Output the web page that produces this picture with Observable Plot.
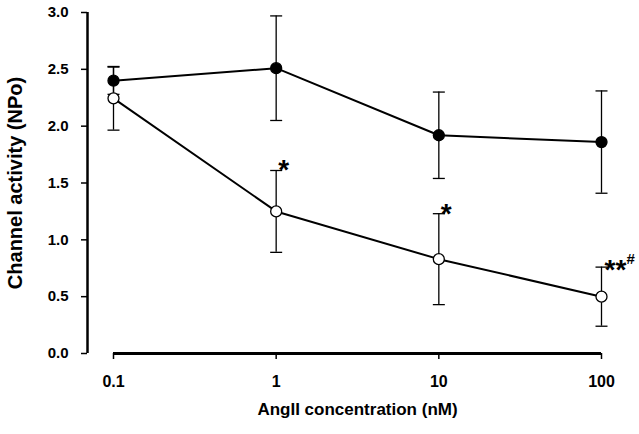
<!DOCTYPE html>
<html>
<head>
<meta charset="utf-8">
<script src="https://cdn.jsdelivr.net/npm/d3@7"></script>
<script src="https://cdn.jsdelivr.net/npm/@observablehq/plot@0.6"></script>
<style>
  html, body { margin: 0; padding: 0; background: #fff; }
</style>
</head>
<body>
<div id="chart"></div>
<script>
// ---- data ----
const conc = [0.1, 1, 10, 100];
const controlMean = [2.40, 2.51, 1.92, 1.86];
const controlSem  = [0.12, 0.46, 0.38, 0.45];
const angMean = [2.245, 1.25, 0.83, 0.50];
const angSem  = [0.28, 0.36, 0.40, 0.26];

const xTicks = [0.1, 1, 10, 100];
const xTickLabels = ["0.1", "1", "10", "100"];
const yTicks = [0, 0.5, 1.0, 1.5, 2.0, 2.5, 3.0];

const annConc = [1, 10];
const annText = ["*", "*"];
const ann2Conc = [100];
const ann2Text = ["**"];
const hashConc = [100];
const hashText = ["#"];

const xTitle = "AngII concentration (nM)";
const yTitle = "Channel activity (NPo)";

// ---- build table ----
const rows = [];
conc.forEach((c, i) => {
  rows.push({series: "control", conc: c, mean: controlMean[i], lo: controlMean[i] - controlSem[i], hi: controlMean[i] + controlSem[i]});
  rows.push({series: "angII", conc: c, mean: angMean[i], lo: angMean[i] - angSem[i], hi: angMean[i] + angSem[i]});
});
const control = rows.filter(d => d.series === "control");
const ang = rows.filter(d => d.series === "angII");
const topOf = c => ang.find(d => d.conc === c).hi;
const annRows = annConc.map((c, i) => ({conc: c, text: annText[i], y: topOf(c)}));
const ann2Rows = ann2Conc.map((c, i) => ({conc: c, text: ann2Text[i], y: topOf(c)}));
const hashRows = hashConc.map((c, i) => ({conc: c, text: hashText[i], y: topOf(c)}));

const cap = { draw(ctx) { ctx.moveTo(-6, 0); ctx.lineTo(6, 0); } };
const font = "'Liberation Sans', Arial, Helvetica, sans-serif";

const chart = Plot.plot({
  width: 639,
  height: 434,
  marginLeft: 113,
  marginRight: 38,
  marginTop: 12,
  marginBottom: 81,
  style: { fontFamily: font, fontWeight: "bold", color: "black", background: "white" },
  x: { type: "log", domain: [0.1, 100] },
  y: { domain: [0, 3] },
  marks: [
    // axes
    Plot.ruleY([0], { stroke: "black", strokeWidth: 3 }),
    Plot.axisX({ ticks: xTicks, tickFormat: d => xTickLabels[xTicks.indexOf(d)], tickSize: 6, tickPadding: 16, fontSize: 16, strokeWidth: 1.5, label: null }),
    Plot.ruleX([xTicks[0]], { dx: -26, stroke: "black", strokeWidth: 2.5 }),
    Plot.axisY({ ticks: yTicks, tickFormat: d => d.toFixed(1), dx: -26, tickSize: 6, tickPadding: 13, fontSize: 15, strokeWidth: 1.5, label: null }),
    Plot.text([xTitle], { frameAnchor: "bottom", dy: 61, fontSize: 17, fontWeight: "bold" }),
    Plot.text([yTitle], { frameAnchor: "left", textAnchor: "middle", dx: -98, rotate: -90, fontSize: 20, fontWeight: "bold" }),
    // error bars
    Plot.ruleX(rows, { x: "conc", y1: "lo", y2: "hi", stroke: "black", strokeWidth: 1.3 }),
    Plot.dot(rows, { x: "conc", y: "hi", symbol: cap, stroke: "black", strokeWidth: 1.3, fill: "none" }),
    Plot.dot(rows, { x: "conc", y: "lo", symbol: cap, stroke: "black", strokeWidth: 1.3, fill: "none" }),
    // lines
    Plot.line(control, { x: "conc", y: "mean", stroke: "black", strokeWidth: 2 }),
    Plot.line(ang, { x: "conc", y: "mean", stroke: "black", strokeWidth: 2 }),
    // points
    Plot.dot(control, { x: "conc", y: "mean", r: 5.5, fill: "black", stroke: "black", strokeWidth: 1.3 }),
    Plot.dot(ang, { x: "conc", y: "mean", r: 5.5, fill: "white", stroke: "black", strokeWidth: 1.3 }),
    // significance marks
    Plot.text(annRows, { x: "conc", y: "y", text: "text", textAnchor: "start", lineAnchor: "bottom", dx: 2, dy: 9, fontSize: 28, fontWeight: "bold" }),
    Plot.text(ann2Rows, { x: "conc", y: "y", text: "text", textAnchor: "start", lineAnchor: "bottom", dx: 3, dy: 12, fontSize: 28, fontWeight: "bold" }),
    Plot.text(hashRows, { x: "conc", y: "y", text: "text", textAnchor: "start", lineAnchor: "bottom", dx: 25, dy: -3, fontSize: 15, fontWeight: "bold" })
  ]
});
document.getElementById("chart").appendChild(chart);
</script>
</body>
</html>
